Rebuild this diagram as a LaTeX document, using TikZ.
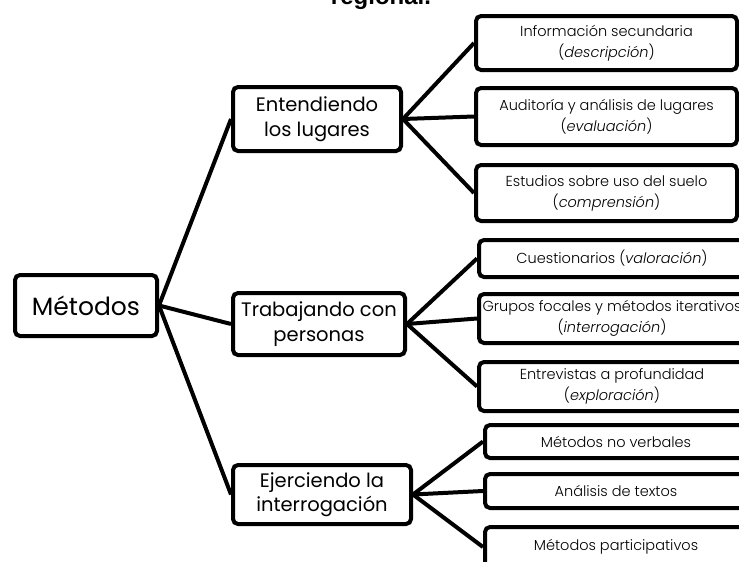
\documentclass[tikz,border=0pt]{standalone}
\usepackage{fontspec}
\setmainfont{Poppins}
\newfontfamily\lightf{Poppins}[UprightFont=* Light, ItalicFont=* Light Italic]
\newfontfamily\titlef{Liberation Sans}
\begin{document}
\begin{tikzpicture}[x=1pt,y=-1pt,
  box/.style={draw=black, line width=4pt, rounded corners=5pt, fill=white, inner sep=0pt, align=center},
  rootbox/.style={box, font=\fontsize{25}{30}\selectfont},
  midbox/.style={box, font=\fontsize{19.5}{24.5}\selectfont},
  leafbox/.style={box, font=\lightf\fontsize{14.5}{21}\selectfont},
  conn/.style={line width=4pt}]
\useasboundingbox (0,0) rectangle (739,562);
\clip (0,0) rectangle (739,562);

\node[font=\titlef\bfseries\fontsize{24}{28}\selectfont, anchor=base] (title) at (381,5) {regional.};

\node[rootbox, minimum width=142pt, minimum height=61pt] (met) at (86,305.5) {Métodos};

\node[midbox, minimum width=168pt, minimum height=64pt] (ent) at (317,119) {Entendiendo\\los lugares};
\node[midbox, minimum width=172pt, minimum height=62pt] (tra) at (319,324) {Trabajando con\\personas};
\node[midbox, minimum width=178pt, minimum height=59pt] (eje) at (322,494.5) {Ejerciendo la\\interrogación};

\node[leafbox, minimum width=261pt, minimum height=54pt] (inf) at (606.5,43) {Información secundaria\\(\textit{descripción})};
\node[leafbox, minimum width=261pt, minimum height=57pt] (aud) at (606.5,116.5) {Auditoría y análisis de lugares\\(\textit{evaluación})};
\node[leafbox, minimum width=261pt, minimum height=56pt] (est) at (606.5,193) {Estudios sobre uso del suelo\\(\textit{comprensión})};

\node[leafbox, minimum width=266pt, minimum height=37pt] (cue) at (612,258.5) {Cuestionarios (\textit{valoración})};
\node[leafbox, minimum width=266pt, minimum height=49pt] (gru) at (612,318.5) {Grupos focales y métodos iterativos\\(\textit{interrogación})};
\node[leafbox, minimum width=266pt, minimum height=49pt] (ent2) at (612,386.5) {Entrevistas a profundidad\\(\textit{exploración})};

\node[leafbox, minimum width=262pt, minimum height=33pt] (nov) at (616,441.5) {Métodos no verbales};
\node[leafbox, minimum width=262pt, minimum height=34pt] (ana) at (616,491) {Análisis de textos};
\node[leafbox, minimum width=262pt, minimum height=40pt] (par) at (616,547) {Métodos participativos};

\draw[conn] (met.east) -- (ent.west);
\draw[conn] (met.east) -- (tra.west);
\draw[conn] (met.east) -- (eje.west);
\draw[conn] (ent.east) -- (inf.west);
\draw[conn] (ent.east) -- (aud.west);
\draw[conn] (ent.east) -- (est.west);
\draw[conn] (tra.east) -- (cue.west);
\draw[conn] (tra.east) -- (gru.west);
\draw[conn] (tra.east) -- (ent2.west);
\draw[conn] (eje.east) -- (nov.west);
\draw[conn] (eje.east) -- (ana.west);
\draw[conn] (eje.east) -- (par.west);
\end{tikzpicture}
\end{document}
